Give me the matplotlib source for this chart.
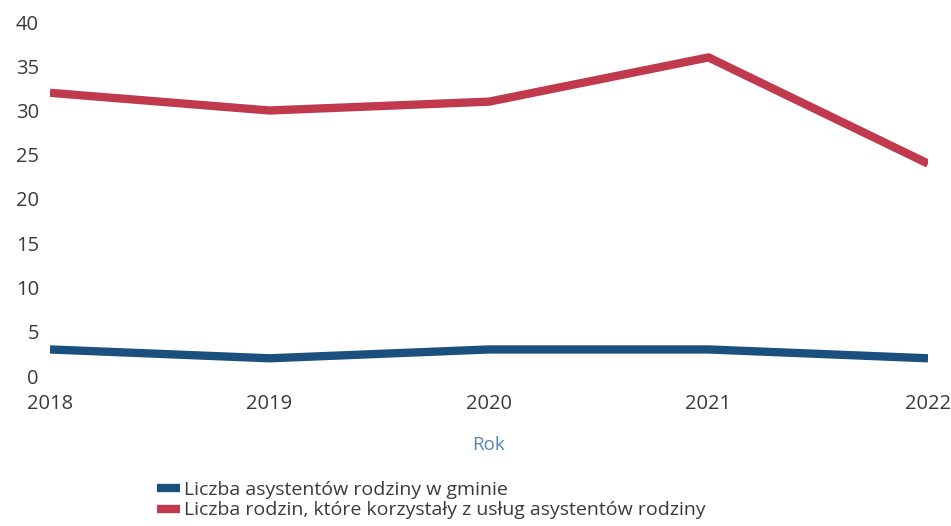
import matplotlib
matplotlib.use('Agg')
import matplotlib.pyplot as plt

years = [2018, 2019, 2020, 2021, 2022]
asystenci = [3, 2, 3, 3, 2]
rodziny = [32, 30, 31, 36, 24]

plt.rcParams['font.family'] = ['Open Sans', 'DejaVu Sans']

fig = plt.figure(figsize=(9.51, 5.26), dpi=100)
ax = fig.add_axes([50/951, 1-376/526, 878/951, 354/526])

ax.plot(years, asystenci, color='#1b4f7e', linewidth=6, solid_capstyle='butt',
        label='Liczba asystentów rodziny w gminie')
ax.plot(years, rodziny, color='#c0394d', linewidth=6, solid_capstyle='butt',
        label='Liczba rodzin, które korzystały z usług asystentów rodziny')

ax.set_ylim(0, 40)
ax.set_xlim(2018, 2022)
ax.set_yticks(range(0, 41, 5))
ax.set_xticks(years)
for s in ax.spines.values():
    s.set_visible(False)
ax.tick_params(length=0, labelsize=14.5, colors='#3a3a3a')
ax.tick_params(axis='y', pad=8)
ax.tick_params(axis='x', pad=13)
ax.set_xlabel('Rok', color='#4f86b0', fontsize=13.5, labelpad=16)

fig.legend(loc='upper left', bbox_to_anchor=(157/951, 1-481/526), frameon=False,
           fontsize=14, handlelength=1.2, handletextpad=0.2, labelspacing=0.12,
           borderaxespad=0, borderpad=0, labelcolor='#3a3a3a')

plt.savefig('out.png', dpi=100)
